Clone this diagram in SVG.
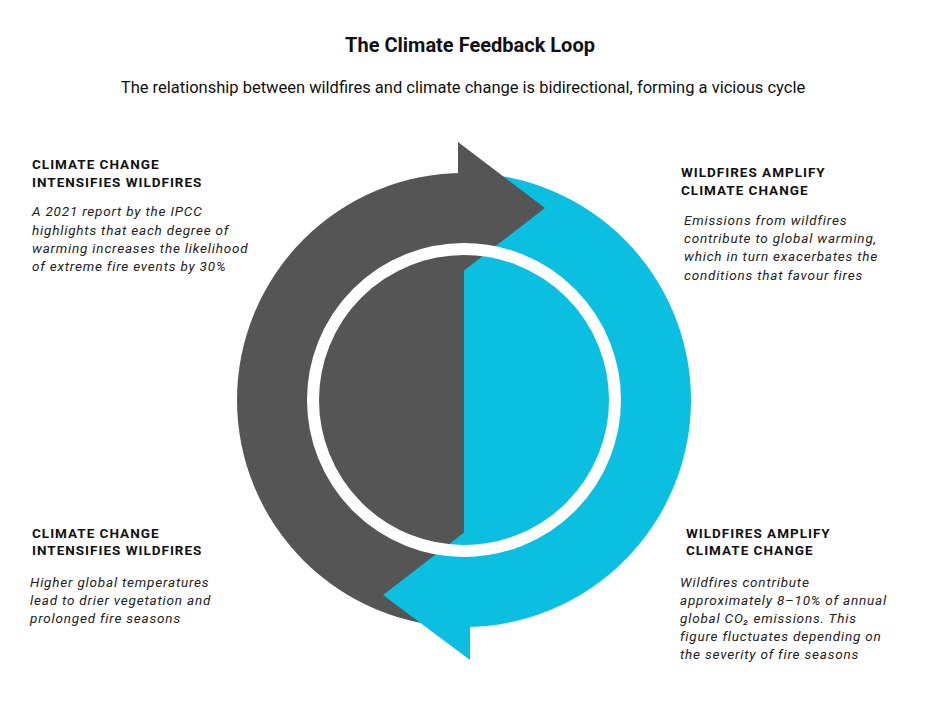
<svg xmlns="http://www.w3.org/2000/svg" width="940" height="705" viewBox="0 0 940 705">
<style>
.t{font-family:"Roboto","Liberation Sans",sans-serif;fill:#111}
.h{font-family:"Roboto","Liberation Sans",sans-serif;font-weight:bold;font-size:13.5px;letter-spacing:1px;fill:#111}
.b{font-family:"Roboto","Liberation Sans",sans-serif;font-style:italic;font-size:13.5px;letter-spacing:0.8px;fill:#222}
.d{fill:#555555}.c{fill:#0bbfe0}
</style>
<rect width="940" height="705" fill="#fff"/>
<text class="t" x="470" y="52" text-anchor="middle" font-size="20" font-weight="bold">The Climate Feedback Loop</text>
<text class="t" x="463" y="93" text-anchor="middle" font-size="16.5">The relationship between wildfires and climate change is bidirectional, forming a vicious cycle</text>
<g id="cycle">
<path class="d" d="M464,173 A227,227 0 0 0 464,627 Z"/>
<path class="c" d="M464,173 A227,227 0 0 1 464,627 Z"/>
<polygon class="d" points="458,142 545,208 462,272 458,272"/>
<polygon class="c" points="383,595 470,528 470,660"/>
<circle cx="464" cy="400" r="151" fill="none" stroke="#fff" stroke-width="12"/>
</g>
<g id="tl"><text class="h" x="32" y="169">CLIMATE CHANGE</text><text class="h" x="32" y="187">INTENSIFIES WILDFIRES</text>
<text class="b" x="32" y="216">A 2021 report by the IPCC</text><text class="b" x="32" y="235">highlights that each degree of</text><text class="b" x="32" y="253">warming increases the likelihood</text><text class="b" x="32" y="271">of extreme fire events by 30%</text></g>
<g id="tr"><text class="h" x="681" y="177">WILDFIRES AMPLIFY</text><text class="h" x="681" y="195">CLIMATE CHANGE</text>
<text class="b" x="684" y="225">Emissions from wildfires</text><text class="b" x="684" y="243">contribute to global warming,</text><text class="b" x="684" y="261">which in turn exacerbates the</text><text class="b" x="684" y="280">conditions that favour fires</text></g>
<g id="bl"><text class="h" x="32" y="538">CLIMATE CHANGE</text><text class="h" x="32" y="555">INTENSIFIES WILDFIRES</text>
<text class="b" x="30" y="587">Higher global temperatures</text><text class="b" x="30" y="605">lead to drier vegetation and</text><text class="b" x="30" y="623">prolonged fire seasons</text></g>
<g id="br"><text class="h" x="686" y="538">WILDFIRES AMPLIFY</text><text class="h" x="686" y="555">CLIMATE CHANGE</text>
<text class="b" x="680" y="587">Wildfires contribute</text><text class="b" x="680" y="605">approximately 8–10% of annual</text><text class="b" x="680" y="623">global CO₂ emissions. This</text><text class="b" x="680" y="641">figure fluctuates depending on</text><text class="b" x="680" y="659">the severity of fire seasons</text></g>
<g id="connectors"/>
</svg>
